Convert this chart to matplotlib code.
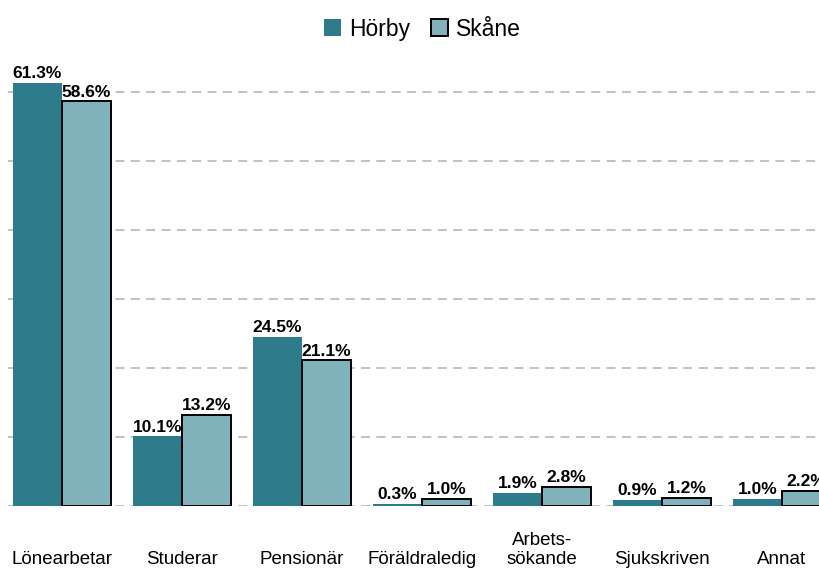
import matplotlib.pyplot as plt
import numpy as np

plt.rcParams['font.family'] = ['Liberation Sans', 'DejaVu Sans']

categories = ["Lönearbetar", "Studerar", "Pensionär", "Föräldraledig",
              "Arbets-\nsökande", "Sjukskriven", "Annat"]
horby = [61.3, 10.1, 24.5, 0.3, 1.9, 0.9, 1.0]
skane = [58.6, 13.2, 21.1, 1.0, 2.8, 1.2, 2.2]
series_names = ["Hörby", "Skåne"]

c_horby = "#2e7b8c"
c_skane = "#7fb2ba"

fig = plt.figure(figsize=(8.2, 5.7), dpi=100)
# axes: left at ~8px, bottom (y=0) at 506px, clipped at right edge of figure
ax = fig.add_axes([8 / 820, 64 / 570, 812 / 820, 442 / 570])

x = np.arange(len(categories))
w = 0.41
b1 = ax.bar(x - w / 2, horby, w, color=c_horby, label=series_names[0], zorder=3)
b2 = ax.bar(x + w / 2, skane, w, color=c_skane, edgecolor="black", linewidth=1.4,
            label=series_names[1], zorder=3)

for bars, vals in ((b1, horby), (b2, skane)):
    for r, v in zip(bars, vals):
        ax.text(r.get_x() + r.get_width() / 2, v + 0.25, f"{v:.1f}%",
                ha="center", va="bottom", fontsize=12.5, fontweight="bold", zorder=4)

ax.set_xlim(-0.45, (820 - 62) / 120)
ax.set_ylim(0, 64)
ax.set_yticks(np.arange(0, 61, 10))
ax.yaxis.grid(True, color="#bdbdbd", linestyle=(0, (5, 3.5)), linewidth=1.3, zorder=0)
ax.set_yticklabels([])
ax.tick_params(left=False, bottom=False)
ax.set_xticks([])
for s in ax.spines.values():
    s.set_visible(False)

trans = ax.get_xaxis_transform()
for xi, lab in zip(x, categories):
    ax.text(xi, -58 / 442, lab, transform=trans, ha="center", va="baseline",
            fontsize=13.5, linespacing=1.15)

fig.legend(handles=[b1, b2], labels=series_names, loc="upper center",
           bbox_to_anchor=(0.515, 1.005), ncol=2, frameon=False, fontsize=16.5,
           handlelength=0.75, handleheight=0.75, handletextpad=0.35, columnspacing=0.9)

fig.savefig("out.png", dpi=100)
